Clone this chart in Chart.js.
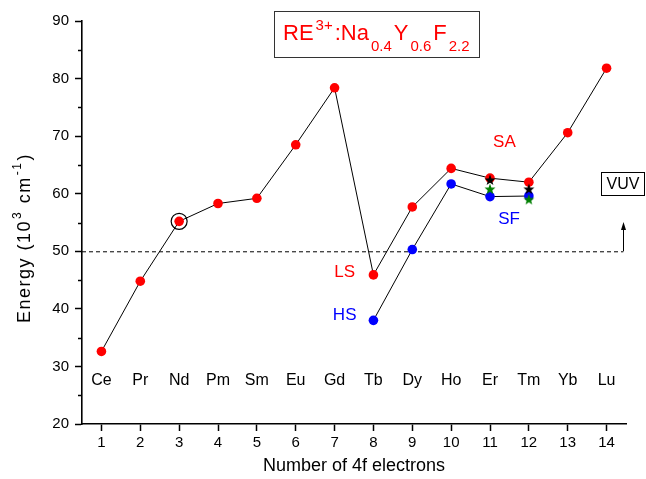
<!DOCTYPE html>
<html><head><meta charset="utf-8">
<script src="https://cdn.jsdelivr.net/npm/chart.js@4"></script>
<style>html,body{margin:0;padding:0;background:#fff}#wrap{width:646px;height:479px;position:relative}</style>
</head><body><div id="wrap"><canvas id="c"></canvas></div>
<script>
// ---- data ----
const electrons = [1,2,3,4,5,6,7,8,9,10,11,12,13,14];
const elements = ['Ce','Pr','Nd','Pm','Sm','Eu','Gd','Tb','Dy','Ho','Er','Tm','Yb','Lu'];
const lsEnergy = [32.6,44.8,55.2,58.3,59.2,68.5,78.4,45.9,57.7,64.4,62.7,62.0,70.6,81.8];
const hsElectrons = [8,9,10,11,12];
const hsEnergy = [38.0,50.3,61.7,59.5,59.6];
const starElectrons = [11,12];
const blackStarEnergy = [62.4,60.8];
const greenStarEnergy = [60.8,59.0];
const circledElectron = [3];
const circledEnergy = [55.2];
const xTicks = [1,2,3,4,5,6,7,8,9,10,11,12,13,14];
const yTicks = [20,30,40,50,60,70,80,90];
const yMinorTicks = [25,35,45,55,65,75,85];
const vuvThreshold = 50;
const vuvArrowTop = 55.1;
const vuvArrowX = 14.43;
const elementLabelEnergy = 27.5;
const textLabels = [
  {text:'LS', x:7.26, y:46.4, color:'#ff0000'},
  {text:'HS', x:7.26, y:38.8, color:'#0000ff'},
  {text:'SA', x:11.37, y:69.0, color:'#ff0000'},
  {text:'SF', x:11.49, y:55.6, color:'#0000ff'}
];

const FONT = '"Liberation Sans", Arial, sans-serif';

function makeStar(color){
  const c = document.createElement('canvas');
  c.width = 12; c.height = 12;
  const g = c.getContext('2d');
  g.fillStyle = color;
  g.beginPath();
  for (let i=0;i<10;i++){
    const r = i%2===0 ? 5.8 : 2.4;
    const a = -Math.PI/2 + i*Math.PI/5;
    const px = 6 + r*Math.cos(a), py = 6.4 + r*Math.sin(a);
    if(i===0) g.moveTo(px,py); else g.lineTo(px,py);
  }
  g.closePath(); g.fill();
  return c;
}

const zip = (xs, ys) => xs.map((x,i)=>({x, y:ys[i]}));

// draws a run of [text, font, baselineShift] pieces starting at x0
function drawRun(ctx, parts, x0, y0, gap){
  let xx = x0;
  parts.forEach(p=>{
    ctx.font = p[1];
    ctx.fillText(p[0], xx, y0 + p[2]);
    xx += ctx.measureText(p[0]).width + gap;
  });
  return xx;
}
function runWidth(ctx, parts, gap){
  let w = 0;
  parts.forEach(p=>{ ctx.font = p[1]; w += ctx.measureText(p[0]).width + gap; });
  return w - gap;
}

const annot = {
  id:'annot',
  beforeDatasetsDraw(chart){
    const {ctx, scales:{x,y}} = chart;
    const yp = y.getPixelForValue(vuvThreshold);
    const xa = x.getPixelForValue(vuvArrowX);
    ctx.save();
    ctx.strokeStyle = '#000'; ctx.lineWidth = 1;
    ctx.setLineDash([4,3]);
    ctx.beginPath(); ctx.moveTo(x.left, yp+0.5); ctx.lineTo(xa, yp+0.5); ctx.stroke();
    ctx.restore();
  },
  afterDraw(chart){
    const {ctx, scales:{x,y}} = chart;
    ctx.save();
    // minor y ticks
    ctx.strokeStyle = '#000'; ctx.lineWidth = 1.5;
    yMinorTicks.forEach(v=>{
      const p = Math.round(y.getPixelForValue(v))+0.5;
      ctx.beginPath(); ctx.moveTo(x.left-4, p); ctx.lineTo(x.left, p); ctx.stroke();
    });
    // arrow
    const yp = y.getPixelForValue(vuvThreshold);
    const yt = y.getPixelForValue(vuvArrowTop);
    const xa = Math.round(x.getPixelForValue(vuvArrowX))+0.5;
    ctx.lineWidth = 1;
    ctx.beginPath(); ctx.moveTo(xa, yp); ctx.lineTo(xa, yt+6); ctx.stroke();
    ctx.fillStyle = '#000';
    ctx.beginPath(); ctx.moveTo(xa, yt); ctx.lineTo(xa-2.5, yt+8); ctx.lineTo(xa+2.5, yt+8); ctx.closePath(); ctx.fill();
    // element labels
    ctx.font = '16px ' + FONT;
    ctx.textAlign = 'center'; ctx.textBaseline = 'middle';
    ctx.fillStyle = '#000';
    const ey = y.getPixelForValue(elementLabelEnergy);
    elements.forEach((e,i)=>{ ctx.fillText(e, x.getPixelForValue(electrons[i]), ey); });
    // LS HS SA SF
    ctx.font = '17px ' + FONT;
    textLabels.forEach(t=>{
      ctx.fillStyle = t.color;
      ctx.fillText(t.text, x.getPixelForValue(t.x), y.getPixelForValue(t.y));
    });
    // VUV box
    ctx.fillStyle = '#000';
    ctx.font = '16px ' + FONT;
    ctx.fillText('VUV', 623, 184.5);
    ctx.lineWidth = 1; ctx.strokeStyle = '#000';
    ctx.strokeRect(601.5, 172.5, 43, 23);
    // title box
    ctx.strokeStyle = '#333';
    ctx.strokeRect(274.5, 11.5, 205, 46);
    ctx.fillStyle = '#ff0000';
    ctx.textAlign = 'left'; ctx.textBaseline = 'alphabetic';
    const big = '22px ' + FONT, small = '15px ' + FONT;
    drawRun(ctx, [
      ['RE', big, 0], ['3+', small, -10], [':Na', big, 0], ['0.4', small, 11],
      ['Y', big, 0], ['0.6', small, 11], ['F', big, 0], ['2.2', small, 11]
    ], 283, 40, 2);
    // y axis title (rotated)
    ctx.fillStyle = '#000';
    const yBig = '18px ' + FONT, ySmall = '12px ' + FONT;
    const yParts = [['Energy (10', yBig, 0], ['3', ySmall, -7], [' cm', yBig, 0], ['-1', ySmall, -7], [')', yBig, 0]];
    ctx.translate(25, 238);
    ctx.rotate(-Math.PI/2);
    if ('letterSpacing' in ctx) ctx.letterSpacing = '1.5px';
    ctx.textBaseline = 'middle';
    const w = runWidth(ctx, yParts, 1);
    drawRun(ctx, yParts, -w/2, 0, 1);
    ctx.restore();
  }
};

new Chart(document.getElementById('c'), {
  type:'scatter',
  data:{ datasets:[
    { data: zip(starElectrons, blackStarEnergy), pointStyle: makeStar('#000000'), pointRadius:6, order:0 },
    { data: zip(starElectrons, greenStarEnergy), pointStyle: makeStar('#008000'), pointRadius:6, order:1 },
    { data: zip(circledElectron, circledEnergy), pointStyle:'circle', pointRadius:8, pointBackgroundColor:'rgba(0,0,0,0)', pointBorderColor:'#000', pointBorderWidth:1.2, order:2 },
    { data: zip(electrons, lsEnergy), showLine:true, borderColor:'#000', borderWidth:1, pointRadius:4.8, pointBackgroundColor:'#ff0000', pointBorderColor:'#ff0000', pointBorderWidth:0, order:3 },
    { data: zip(hsElectrons, hsEnergy), showLine:true, borderColor:'#000', borderWidth:1, pointRadius:4.8, pointBackgroundColor:'#0000ff', pointBorderColor:'#0000ff', pointBorderWidth:0, order:4 }
  ]},
  options:{
    responsive:true, maintainAspectRatio:false, animation:false,
    layout:{ padding:{ left:0, top:21, right:20, bottom:0 } },
    plugins:{ legend:{display:false}, tooltip:{enabled:false} },
    scales:{
      x:{ type:'linear', min:0.5, max:14.5,
        afterBuildTicks: s => { s.ticks = xTicks.map(v=>({value:v})); },
        afterFit: s => { s.height = 55; },
        grid:{ drawOnChartArea:false, drawTicks:true, tickLength:7, tickWidth:1.5, tickColor:'#000' },
        border:{ color:'#000', width:1.6 },
        ticks:{ color:'#000', font:{family:FONT, size:15}, padding:3, maxRotation:0 },
        title:{ display:true, text:'Number of 4f electrons', color:'#000', font:{family:FONT, size:18}, padding:{top:0,bottom:2} }
      },
      y:{ type:'linear', min:20, max:90,
        afterBuildTicks: s => { s.ticks = yTicks.map(v=>({value:v})); },
        afterFit: s => { s.width = 82; },
        grid:{ drawOnChartArea:false, drawTicks:true, tickLength:7, tickWidth:1.5, tickColor:'#000' },
        border:{ color:'#000', width:1.6 },
        ticks:{ color:'#000', font:{family:FONT, size:15}, padding:6 }
      }
    }
  },
  plugins:[annot]
});
</script></body></html>
